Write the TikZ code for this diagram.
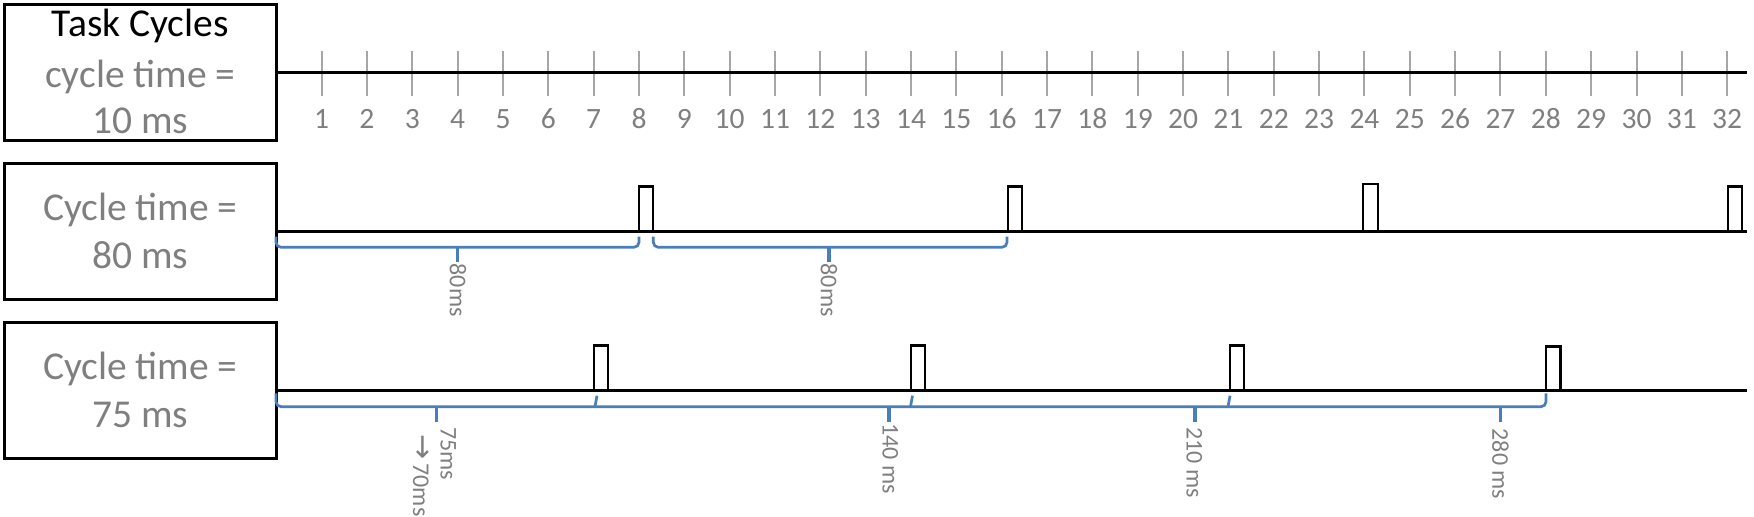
\documentclass[tikz,border=0pt]{standalone}
\usepackage{fontspec}
\setmainfont{Carlito}
\newfontfamily\arrowfont{DejaVu Sans}
\definecolor{txtgray}{HTML}{7F7F7F}
\definecolor{tickgray}{HTML}{A6A6A6}
\definecolor{braceblue}{HTML}{4A7EBB}
\begin{document}
\begin{tikzpicture}[x=0.5pt,y=-0.5pt,
  taskbox/.style={draw=black, line width=1.5pt, inner sep=0pt, minimum width=135.65pt, minimum height=68pt},
  boxtext/.style={font=\fontsize{19.75}{23}\selectfont, text=txtgray, anchor=base, inner sep=0pt},
  axis/.style={line width=1.65pt, draw=black},
  tickmark/.style={line width=1pt, draw=tickgray},
  ticklabel/.style={font=\fontsize{14.75}{17}\selectfont, text=txtgray, anchor=base, inner sep=0pt},
  pulse/.style={draw=black, line width=1.2pt},
  brace/.style={draw=braceblue, line width=1.35pt, rounded corners=2.5pt},
  bracetip/.style={draw=braceblue, line width=1.7pt},
  vlabel/.style={font=\fontsize{12}{14}\selectfont, text=txtgray, rotate=-90, anchor=west, inner sep=0pt}
]
\useasboundingbox (0,0) rectangle (1754,517);

% boxes
\node[taskbox] (b1) at (140.35,72.7) {};
\node[taskbox] (b2) at (140.35,231.85) {};
\node[taskbox] (b3) at (140.35,390.85) {};

\node[boxtext, text=black] (t1a) at (140.35,36.7) {Task Cycles};
\node[boxtext] (t1b) at (140.35,88) {cycle time =};
\node[boxtext] (t1c) at (140.35,134) {10 ms};
\node[boxtext] (t2a) at (140.35,220.7) {Cycle time =};
\node[boxtext] (t2b) at (140.35,268.3) {80 ms};
\node[boxtext] (t3a) at (140.35,380) {Cycle time =};
\node[boxtext] (t3b) at (140.35,427.7) {75 ms};

% ticks
\foreach \n in {1,...,32} {
  \pgfmathsetmacro{\tx}{639+(\n-8)*45.34}
  \draw[tickmark] (\tx,50.7) -- (\tx,95.7);
  \node[ticklabel] (tl\n) at (\tx,128.3) {\n};
}

% axes
\coordinate (e1) at (1747,72.7);
\coordinate (e2) at (1747,231.85);
\coordinate (e3) at (1747,390.85);
\draw[axis] (b1.east) -- (e1);
\draw[axis] (b2.east) -- (e2);
\draw[axis] (b3.east) -- (e3);

% pulses row 2
\draw[pulse] (639,231.85) rectangle (653,186.7);
\draw[pulse] (1008,231.85) rectangle (1022,186.7);
\draw[pulse] (1362.7,231.85) rectangle (1378,184.3);
\draw[pulse] (1727.7,231.85) rectangle (1742,186.7);

% pulses row 3
\draw[pulse] (593.7,390.85) rectangle (608,345.7);
\draw[pulse] (910.7,390.85) rectangle (925,345.7);
\draw[pulse] (1230,390.85) rectangle (1244,345.7);
\draw[pulse] (1546,390.85) rectangle (1560.5,346.7);

% braces row 2
\draw[brace] (276,236.7) -- (276,247.3) -- (639,247.3) -- (639,236.7);
\draw[bracetip] (457.7,247.3) -- (457.7,261.7);
\draw[brace] (653.3,236.7) -- (653.3,247.3) -- (1007,247.3) -- (1007,236.7);
\draw[bracetip] (829,247.3) -- (829,261.7);

% braces row 3
\draw[brace] (276,393.5) -- (276,406.7) -- (1546,406.7) -- (1546,393.5);
\draw[brace] (595,406.7) -- (597,395.7);
\draw[brace] (910.5,406.7) -- (912.5,395.7);
\draw[brace] (1228,406.7) -- (1230,395.7);
\draw[bracetip] (436.7,406.7) -- (436.7,421.7);
\draw[bracetip] (889,406.7) -- (889,421.7);
\draw[bracetip] (1195,406.7) -- (1195,421.7);
\draw[bracetip] (1500.7,406.7) -- (1500.7,421.7);

% labels
\node[vlabel] (l1) at (458,263.3) {80ms};
\node[vlabel] (l2) at (829,263.3) {80ms};
\node[vlabel] (l3) at (448.3,426.7) {75ms};
\node[vlabel] (l4) at (421,434) {{\arrowfont\fontsize{15}{14}\selectfont →}\,70ms};
\node[vlabel] (l5) at (890.3,423) {140 ms};
\node[vlabel] (l6) at (1194.3,426.7) {210 ms};
\node[vlabel] (l7) at (1500.5,428.3) {280 ms};
\end{tikzpicture}
\end{document}
